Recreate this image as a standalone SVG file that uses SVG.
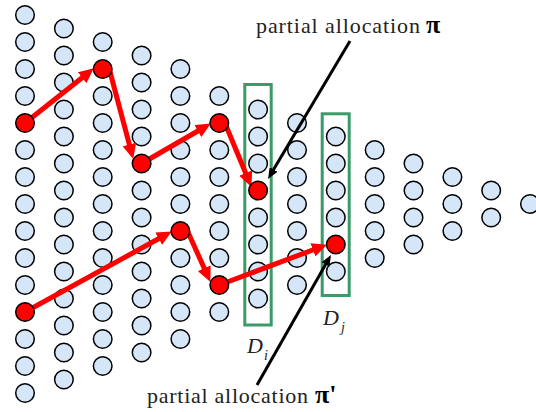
<svg xmlns="http://www.w3.org/2000/svg" width="536" height="412" viewBox="0 0 536 412">
<defs>
<style>
.b{fill:#d4e6f8;stroke:#000;stroke-width:1.5}
.r{fill:#ff0000;stroke:#000;stroke-width:1.5}
.box{fill:none;stroke:#3a9a6a;stroke-width:3}
.ra{stroke:#ff0000;stroke-width:5;fill:none;marker-end:url(#rh)}
.ka{stroke:#000;stroke-width:3;fill:none;marker-end:url(#kh)}
.t{font-family:"Liberation Serif","DejaVu Serif",serif;font-size:22px;fill:#222}
.pi{font-family:"Liberation Serif","DejaVu Serif",serif;font-size:26px;font-weight:bold;fill:#000}
.it{font-family:"Liberation Serif","DejaVu Serif",serif;font-style:italic;fill:#222}
</style>
<marker id="rh" markerUnits="userSpaceOnUse" markerWidth="15" markerHeight="14" refX="4" refY="7" orient="auto"><path d="M0,0 L15,7 L0,14 z" fill="#ff0000"/></marker>
<marker id="kh" markerUnits="userSpaceOnUse" markerWidth="11" markerHeight="9" refX="3" refY="4.5" orient="auto"><path d="M0,0 L11,4.5 L0,9 z" fill="#000"/></marker>
</defs>
<rect width="536" height="412" fill="#fff"/>
<g id="nodes">
<g id="c1">
<g id="n1_1"><circle class="b" cx="25" cy="15" r="9.3"/></g>
<g id="n1_2"><circle class="b" cx="25" cy="42" r="9.3"/></g>
<g id="n1_3"><circle class="b" cx="25" cy="69" r="9.3"/></g>
<g id="n1_4"><circle class="b" cx="25" cy="96" r="9.3"/></g>
<g id="n1_6"><circle class="b" cx="25" cy="150" r="9.3"/></g>
<g id="n1_7"><circle class="b" cx="25" cy="177" r="9.3"/></g>
<g id="n1_8"><circle class="b" cx="25" cy="204" r="9.3"/></g>
<g id="n1_9"><circle class="b" cx="25" cy="231" r="9.3"/></g>
<g id="n1_10"><circle class="b" cx="25" cy="258" r="9.3"/></g>
<g id="n1_11"><circle class="b" cx="25" cy="285" r="9.3"/></g>
<g id="n1_13"><circle class="b" cx="25" cy="339" r="9.3"/></g>
<g id="n1_14"><circle class="b" cx="25" cy="366" r="9.3"/></g>
<g id="n1_15"><circle class="b" cx="25" cy="393" r="9.3"/></g>
</g>
<g id="c2">
<g id="n2_1"><circle class="b" cx="63.9" cy="28.5" r="9.3"/></g>
<g id="n2_2"><circle class="b" cx="63.9" cy="55.5" r="9.3"/></g>
<g id="n2_3"><circle class="b" cx="63.9" cy="82.5" r="9.3"/></g>
<g id="n2_4"><circle class="b" cx="63.9" cy="109.5" r="9.3"/></g>
<g id="n2_5"><circle class="b" cx="63.9" cy="136.5" r="9.3"/></g>
<g id="n2_6"><circle class="b" cx="63.9" cy="163.5" r="9.3"/></g>
<g id="n2_7"><circle class="b" cx="63.9" cy="190.5" r="9.3"/></g>
<g id="n2_8"><circle class="b" cx="63.9" cy="217.5" r="9.3"/></g>
<g id="n2_9"><circle class="b" cx="63.9" cy="244.5" r="9.3"/></g>
<g id="n2_10"><circle class="b" cx="63.9" cy="271.5" r="9.3"/></g>
<g id="n2_11"><circle class="b" cx="63.9" cy="298.5" r="9.3"/></g>
<g id="n2_12"><circle class="b" cx="63.9" cy="325.5" r="9.3"/></g>
<g id="n2_13"><circle class="b" cx="63.9" cy="352.5" r="9.3"/></g>
<g id="n2_14"><circle class="b" cx="63.9" cy="379.5" r="9.3"/></g>
</g>
<g id="c3">
<g id="n3_1"><circle class="b" cx="102.7" cy="42" r="9.3"/></g>
<g id="n3_3"><circle class="b" cx="102.7" cy="96" r="9.3"/></g>
<g id="n3_4"><circle class="b" cx="102.7" cy="123" r="9.3"/></g>
<g id="n3_5"><circle class="b" cx="102.7" cy="150" r="9.3"/></g>
<g id="n3_6"><circle class="b" cx="102.7" cy="177" r="9.3"/></g>
<g id="n3_7"><circle class="b" cx="102.7" cy="204" r="9.3"/></g>
<g id="n3_8"><circle class="b" cx="102.7" cy="231" r="9.3"/></g>
<g id="n3_9"><circle class="b" cx="102.7" cy="258" r="9.3"/></g>
<g id="n3_10"><circle class="b" cx="102.7" cy="285" r="9.3"/></g>
<g id="n3_11"><circle class="b" cx="102.7" cy="312" r="9.3"/></g>
<g id="n3_12"><circle class="b" cx="102.7" cy="339" r="9.3"/></g>
<g id="n3_13"><circle class="b" cx="102.7" cy="366" r="9.3"/></g>
</g>
<g id="c4">
<g id="n4_1"><circle class="b" cx="141.6" cy="55.5" r="9.3"/></g>
<g id="n4_2"><circle class="b" cx="141.6" cy="82.5" r="9.3"/></g>
<g id="n4_3"><circle class="b" cx="141.6" cy="109.5" r="9.3"/></g>
<g id="n4_4"><circle class="b" cx="141.6" cy="136.5" r="9.3"/></g>
<g id="n4_6"><circle class="b" cx="141.6" cy="190.5" r="9.3"/></g>
<g id="n4_7"><circle class="b" cx="141.6" cy="217.5" r="9.3"/></g>
<g id="n4_8"><circle class="b" cx="141.6" cy="244.5" r="9.3"/></g>
<g id="n4_9"><circle class="b" cx="141.6" cy="271.5" r="9.3"/></g>
<g id="n4_10"><circle class="b" cx="141.6" cy="298.5" r="9.3"/></g>
<g id="n4_11"><circle class="b" cx="141.6" cy="325.5" r="9.3"/></g>
<g id="n4_12"><circle class="b" cx="141.6" cy="352.5" r="9.3"/></g>
</g>
<g id="c5">
<g id="n5_1"><circle class="b" cx="180.4" cy="69" r="9.3"/></g>
<g id="n5_2"><circle class="b" cx="180.4" cy="96" r="9.3"/></g>
<g id="n5_3"><circle class="b" cx="180.4" cy="123" r="9.3"/></g>
<g id="n5_4"><circle class="b" cx="180.4" cy="150" r="9.3"/></g>
<g id="n5_5"><circle class="b" cx="180.4" cy="177" r="9.3"/></g>
<g id="n5_6"><circle class="b" cx="180.4" cy="204" r="9.3"/></g>
<g id="n5_8"><circle class="b" cx="180.4" cy="258" r="9.3"/></g>
<g id="n5_9"><circle class="b" cx="180.4" cy="285" r="9.3"/></g>
<g id="n5_10"><circle class="b" cx="180.4" cy="312" r="9.3"/></g>
<g id="n5_11"><circle class="b" cx="180.4" cy="339" r="9.3"/></g>
</g>
<g id="c6">
<g id="n6_1"><circle class="b" cx="219.3" cy="96" r="9.3"/></g>
<g id="n6_3"><circle class="b" cx="219.3" cy="150" r="9.3"/></g>
<g id="n6_4"><circle class="b" cx="219.3" cy="177" r="9.3"/></g>
<g id="n6_5"><circle class="b" cx="219.3" cy="204" r="9.3"/></g>
<g id="n6_6"><circle class="b" cx="219.3" cy="231" r="9.3"/></g>
<g id="n6_7"><circle class="b" cx="219.3" cy="258" r="9.3"/></g>
<g id="n6_9"><circle class="b" cx="219.3" cy="312" r="9.3"/></g>
</g>
<g id="c7">
<g id="n7_1"><circle class="b" cx="258.1" cy="109.5" r="9.3"/></g>
<g id="n7_2"><circle class="b" cx="258.1" cy="136.5" r="9.3"/></g>
<g id="n7_3"><circle class="b" cx="258.1" cy="163.5" r="9.3"/></g>
<g id="n7_5"><circle class="b" cx="258.1" cy="217.5" r="9.3"/></g>
<g id="n7_6"><circle class="b" cx="258.1" cy="244.5" r="9.3"/></g>
<g id="n7_7"><circle class="b" cx="258.1" cy="271.5" r="9.3"/></g>
<g id="n7_8"><circle class="b" cx="258.1" cy="298.5" r="9.3"/></g>
</g>
<g id="c8">
<g id="n8_1"><circle class="b" cx="297" cy="123" r="9.3"/></g>
<g id="n8_2"><circle class="b" cx="297" cy="150" r="9.3"/></g>
<g id="n8_3"><circle class="b" cx="297" cy="177" r="9.3"/></g>
<g id="n8_4"><circle class="b" cx="297" cy="204" r="9.3"/></g>
<g id="n8_5"><circle class="b" cx="297" cy="231" r="9.3"/></g>
<g id="n8_6"><circle class="b" cx="297" cy="258" r="9.3"/></g>
<g id="n8_7"><circle class="b" cx="297" cy="285" r="9.3"/></g>
</g>
<g id="c9">
<g id="n9_1"><circle class="b" cx="335.8" cy="136.5" r="9.3"/></g>
<g id="n9_2"><circle class="b" cx="335.8" cy="163.5" r="9.3"/></g>
<g id="n9_3"><circle class="b" cx="335.8" cy="190.5" r="9.3"/></g>
<g id="n9_4"><circle class="b" cx="335.8" cy="217.5" r="9.3"/></g>
<g id="n9_6"><circle class="b" cx="335.8" cy="271.5" r="9.3"/></g>
</g>
<g id="c10">
<g id="n10_1"><circle class="b" cx="374.7" cy="150" r="9.3"/></g>
<g id="n10_2"><circle class="b" cx="374.7" cy="177" r="9.3"/></g>
<g id="n10_3"><circle class="b" cx="374.7" cy="204" r="9.3"/></g>
<g id="n10_4"><circle class="b" cx="374.7" cy="231" r="9.3"/></g>
<g id="n10_5"><circle class="b" cx="374.7" cy="258" r="9.3"/></g>
</g>
<g id="c11">
<g id="n11_1"><circle class="b" cx="413.5" cy="163.5" r="9.3"/></g>
<g id="n11_2"><circle class="b" cx="413.5" cy="190.5" r="9.3"/></g>
<g id="n11_3"><circle class="b" cx="413.5" cy="217.5" r="9.3"/></g>
<g id="n11_4"><circle class="b" cx="413.5" cy="244.5" r="9.3"/></g>
</g>
<g id="c12">
<g id="n12_1"><circle class="b" cx="452.4" cy="177" r="9.3"/></g>
<g id="n12_2"><circle class="b" cx="452.4" cy="204" r="9.3"/></g>
<g id="n12_3"><circle class="b" cx="452.4" cy="231" r="9.3"/></g>
</g>
<g id="c13">
<g id="n13_1"><circle class="b" cx="491.2" cy="190.5" r="9.3"/></g>
<g id="n13_2"><circle class="b" cx="491.2" cy="217.5" r="9.3"/></g>
</g>
<g id="c14">
<g id="n14_1"><circle class="b" cx="530" cy="204" r="9.3"/></g>
</g>
</g>
<g id="Di">
<rect class="box" x="244.8" y="84.5" width="26.4" height="240.5"/>
<text class="it" x="247" y="353" font-size="22">D</text>
<text class="it" x="264" y="360" font-size="14">i</text>
</g>
<g id="Dj">
<rect class="box" x="322.2" y="113.8" width="27" height="181.7"/>
<text class="it" x="323" y="325" font-size="22">D</text>
<text class="it" x="341" y="332" font-size="14">j</text>
</g>
<g id="connectors">
<line class="ra" x1="25" y1="123" x2="85.2" y2="75.2"/>
<line class="ra" x1="109" y1="68" x2="130.4" y2="148.3"/>
<line class="ra" x1="141.6" y1="163.5" x2="201.3" y2="129"/>
<line class="ra" x1="224" y1="121" x2="247.2" y2="176.8"/>
<line class="ra" x1="25" y1="312" x2="162.2" y2="236.8"/>
<line class="ra" x1="187" y1="230" x2="205.9" y2="271.9"/>
<line class="ra" x1="219.3" y1="285" x2="316.6" y2="248.5"/>
<line class="ka" x1="350" y1="41" x2="272.1" y2="172.1"/>
<line class="ka" x1="257" y1="385" x2="327" y2="262"/>
</g>
<g id="red-nodes">
<g id="n1_5"><circle class="r" cx="25" cy="123" r="9.3"/></g>
<g id="n3_2"><circle class="r" cx="102.7" cy="69" r="9.3"/></g>
<g id="n4_5"><circle class="r" cx="141.6" cy="163.5" r="9.3"/></g>
<g id="n6_2"><circle class="r" cx="219.3" cy="123" r="9.3"/></g>
<g id="n7_4"><circle class="r" cx="258.1" cy="190.5" r="9.3"/></g>
<g id="n1_12"><circle class="r" cx="25" cy="312" r="9.3"/></g>
<g id="n5_7"><circle class="r" cx="180.4" cy="231" r="9.3"/></g>
<g id="n6_8"><circle class="r" cx="219.3" cy="285" r="9.3"/></g>
<g id="n9_5"><circle class="r" cx="335.8" cy="244.5" r="9.3"/></g>
</g>
<g id="label-pi">
<text class="t" x="256" y="33" textLength="164" lengthAdjust="spacing">partial allocation</text>
<text class="pi" x="426" y="33">π</text>
</g>
<g id="label-pi2">
<text class="t" x="147" y="403" textLength="161" lengthAdjust="spacing">partial allocation</text>
<text class="pi" x="315" y="403">π'</text>
</g>
</svg>
